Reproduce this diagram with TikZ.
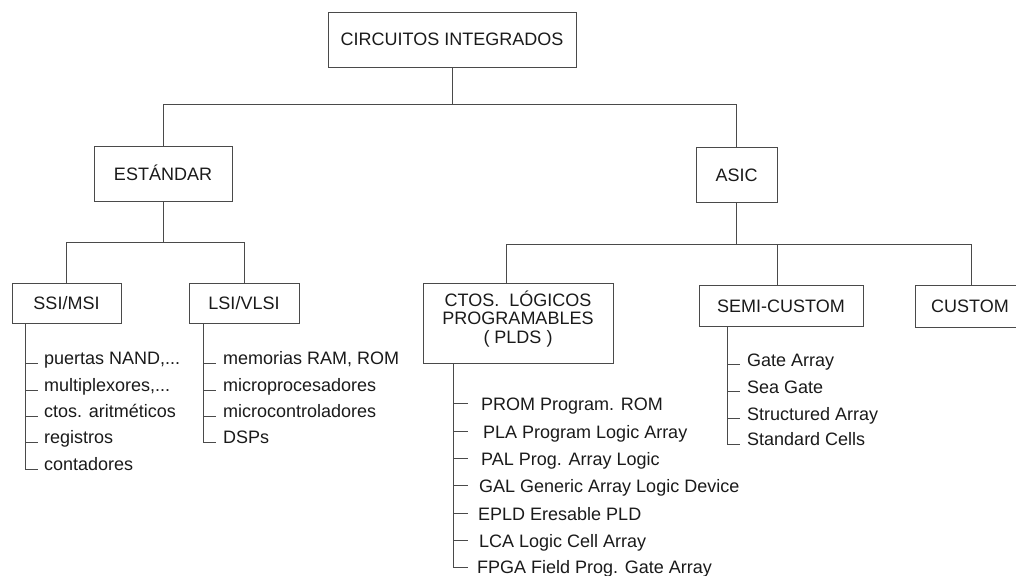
\documentclass[tikz,border=0pt]{standalone}
\usepackage{fontspec}
\setmainfont{Liberation Sans}
\usetikzlibrary{calc}
\definecolor{ink}{HTML}{1A1A1A}
\definecolor{rule}{HTML}{4A4A4A}

\begin{document}
\begin{tikzpicture}[x=1pt,y=-1pt,
  every node/.style={font=\fontsize{18}{18.5}\selectfont, text=ink},
  box/.style={draw=rule, line width=0.8pt, inner sep=0pt},
  oneline/.style={box, text height=13pt, text depth=0pt},
  ln/.style={draw=rule, line width=0.8pt},
  item/.style={anchor=base west, inner sep=0pt}
]
\useasboundingbox (0,0) rectangle (1016,575);

% ---- boxes ----
\node[oneline, minimum width=248pt, minimum height=55pt] (ci)   at (452,39.5)  {CIRCUITOS INTEGRADOS};
\node[oneline, minimum width=138pt, minimum height=55pt] (est)  at (163,174)   {ESTÁNDAR};
\node[oneline, minimum width=81pt,  minimum height=55pt] (asic) at (736.5,175) {ASIC};
\node[oneline, minimum width=109pt, minimum height=40pt] (ssi)  at (66.5,303)  {SSI/MSI};
\node[oneline, minimum width=110pt, minimum height=40pt] (lsi)  at (244,303)   {LSI/VLSI};
\node[box, minimum width=190pt, minimum height=80pt, align=center, text depth=12pt] (pld) at (518,323)
  {CTOS.\ \ LÓGICOS\\PROGRAMABLES\\( PLDS )};
\node[oneline, minimum width=164pt, minimum height=41pt] (semi) at (781,305.5) {SEMI-CUSTOM};
\node[oneline, minimum width=110pt, minimum height=42pt] (cus)  at (970,306)   {CUSTOM};

% ---- tree connectors ----
\coordinate (j0) at (452,104);
\draw[ln] (ci.south) -- (j0);
\draw[ln] (est.north) -- (est.north |- j0) -- (asic.north |- j0) -- (asic.north);

\coordinate (j1) at (163,242);
\draw[ln] (est.south) -- (j1);
\draw[ln] (ssi.north) -- (ssi.north |- j1) -- (lsi.north |- j1) -- (lsi.north);

\coordinate (j2) at (736.5,244);
\draw[ln] (asic.south) -- (j2);
\coordinate (pldin) at ($(pld.north)+(-12,0)$);
\coordinate (cusin) at ($(cus.north)+(1,0)$);
\coordinate (semiin) at ($(semi.north)+(-4,0)$);
\draw[ln] (pldin) -- (pldin |- j2) -- (cusin |- j2) -- (cusin);
\draw[ln] (semiin) -- (semiin |- j2);

% ---- SSI/MSI list ----
\coordinate (sx) at (25,0);
\node[item] (s1) at (44,364) {puertas NAND,...};
\node[item] (s2) at (44,391) {multiplexores,...};
\node[item] (s3) at (44,417) {ctos. aritméticos};
\node[item] (s4) at (44,443) {registros};
\node[item] (s5) at (44,470) {contadores};
\draw[ln] (ssi.south -| sx) -- ($(sx |- s5.base)+(0,-1)$) -- ++(13,0);
\foreach \n in {s1,s2,s3,s4} \draw[ln] ($(sx |- \n.base)+(0,-1)$) -- ++(13,0);

% ---- LSI/VLSI list ----
\coordinate (lx) at (203,0);
\node[item] (l1) at (223,364) {memorias RAM, ROM};
\node[item] (l2) at (223,391) {microprocesadores};
\node[item] (l3) at (223,417) {microcontroladores};
\node[item] (l4) at (223,443) {DSPs};
\draw[ln] (lsi.south -| lx) -- ($(lx |- l4.base)+(0,-1)$) -- ++(13,0);
\foreach \n in {l1,l2,l3} \draw[ln] ($(lx |- \n.base)+(0,-1)$) -- ++(13,0);

% ---- PLD list ----
\coordinate (px) at (453.5,0);
\node[item] (p1) at (481,410) {PROM Program. ROM};
\node[item] (p2) at (483,438) {PLA Program Logic Array};
\node[item] (p3) at (481,465) {PAL Prog. Array Logic};
\node[item] (p4) at (479,492) {GAL Generic Array Logic Device};
\node[item] (p5) at (478,520) {EPLD Eresable PLD};
\node[item] (p6) at (479,547) {LCA Logic Cell Array};
\node[item] (p7) at (477,573) {FPGA Field Prog. Gate Array};
\draw[ln] (pld.south -| px) -- ($(px |- p7.base)+(0,-6)$) -- ++(14,0);
\foreach \n in {p1,p2,p3,p4,p5,p6} \draw[ln] ($(px |- \n.base)+(0,-7)$) -- ++(14,0);

% ---- SEMI-CUSTOM list ----
\coordinate (mx) at (727,0);
\node[item] (m1) at (747,366) {Gate Array};
\node[item] (m2) at (747,393) {Sea Gate};
\node[item] (m3) at (747,420) {Structured Array};
\node[item] (m4) at (747,445) {Standard Cells};
\draw[ln] (semi.south -| mx) -- ($(mx |- m4.base)+(0,-1)$) -- ++(13,0);
\foreach \n in {m1,m2,m3} \draw[ln] ($(mx |- \n.base)+(0,-2)$) -- ++(13,0);
\end{tikzpicture}
\end{document}
